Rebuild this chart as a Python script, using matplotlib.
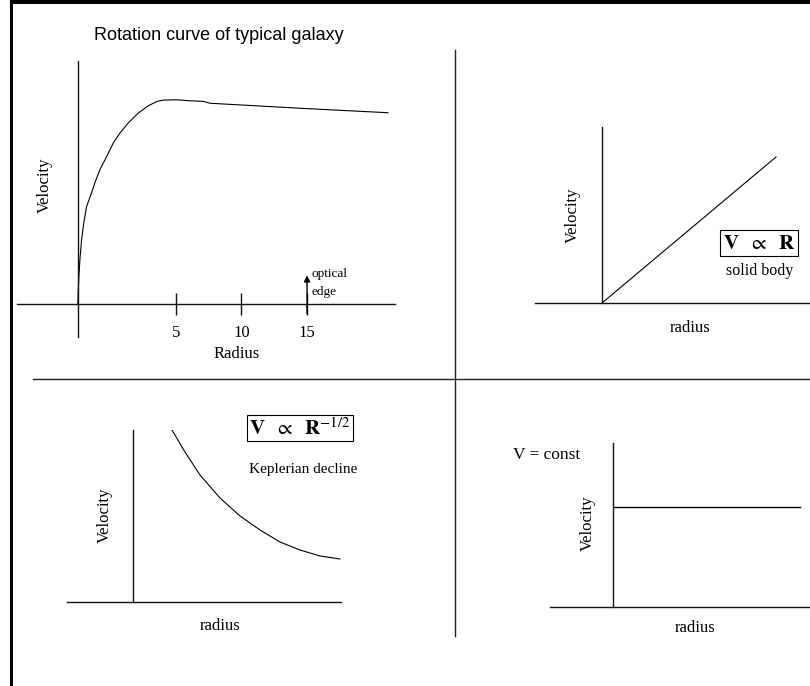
import matplotlib
matplotlib.use("Agg")
import matplotlib.pyplot as plt
from matplotlib.lines import Line2D
from matplotlib.patches import Rectangle

W, H = 810, 686
plt.rcParams['mathtext.fontset'] = 'stix'
SERIF = ['Liberation Serif', 'DejaVu Serif']
SANS = ['Liberation Sans', 'DejaVu Sans']

# --- data -------------------------------------------------------------
# Panel 1: rotation curve of a typical galaxy (radius in kpc, velocity in km/s)
galaxy_r = [-2.47, -2.43, -2.39, -2.31, -2.18, -2.01, -1.80, -1.42, -1.17,
            -0.79, -0.27, 0.23, 0.74, 1.37, 2.14, 2.90, 3.54, 4.05, 5.07,
            6.08, 7.08, 7.61, 14.48, 21.2]
galaxy_v = [0, 13.7, 25.2, 43.1, 62.7, 79.4, 95.4, 108.8, 118.6,
            131.4, 144.4, 157.5, 167.4, 177.2, 187.0, 194.1, 198.3, 199.7, 200,
            199, 198.5, 196.6, 191.7, 187.3]
radius_ticks = [5, 10, 15]
radius_tick_labels = ['5', '10', '15']
optical_edge_r = 15

# Panel 2: solid body rotation, V proportional to R
solid_r = [0, 8]
solid_v = [0, 8]

# Panel 3: Keplerian decline, V proportional to R^-1/2
kepler_r = [1.95, 2.6, 3.35, 4.35, 5.35, 6.35, 7.35, 8.35, 9.35, 10.35]
kepler_v = [8.6, 7.5, 6.35, 5.2, 4.3, 3.6, 3.0, 2.6, 2.3, 2.15]

# Panel 4: flat rotation curve, V = const
flat_r = [0, 9.35]
flat_v = [5.0, 5.0]


def box(x0, y0, x1, y1):
    """Pixel box (top-left origin) -> figure-fraction rect."""
    return [x0 / W, 1 - y1 / H, (x1 - x0) / W, (y1 - y0) / H]


def fpos(x, y):
    return x / W, 1 - y / H


fig = plt.figure(figsize=(W / 100, H / 100), dpi=100)
fig.patch.set_facecolor('white')

AX_LW = 1.0
CURVE_LW = 0.8


def schematic_axes(rect, xlim, ylim, yaxis_at=0.0):
    ax = fig.add_axes(rect)
    ax.set_xlim(*xlim)
    ax.set_ylim(*ylim)
    ax.patch.set_alpha(0)
    for s in ('top', 'right'):
        ax.spines[s].set_visible(False)
    ax.spines['left'].set_position(('data', yaxis_at))
    ax.spines['bottom'].set_position(('data', 0))
    for s in ('left', 'bottom'):
        ax.spines[s].set_linewidth(AX_LW)
        ax.spines[s].set_color('#111111')
    ax.set_xticks([])
    ax.set_yticks([])
    return ax


# Panel 1 -------------------------------------------------------------
ax1 = schematic_axes(box(17, 61, 395, 337), (-7.1, 21.7), (-32.4, 238),
                     yaxis_at=galaxy_r[0])
ax1.plot(galaxy_r, galaxy_v, color='black', lw=CURVE_LW, solid_capstyle='butt',
         solid_joinstyle='round')
ax1.set_xticks(radius_ticks)
ax1.set_xticklabels(radius_tick_labels, family=SERIF, fontsize=12)
ax1.tick_params(axis='x', direction='inout', length=16, width=AX_LW, pad=7,
                color='#111111')
ax1.annotate('', xy=(optical_edge_r, 28), xytext=(optical_edge_r, -9.8),
             arrowprops=dict(arrowstyle='-|>', lw=AX_LW, color='black',
                             mutation_scale=9, shrinkA=0, shrinkB=0))
fig.text(*fpos(312, 274), 'optical', family=SERIF, fontsize=9.5, ha='left', va='center')
fig.text(*fpos(312, 292), 'edge', family=SERIF, fontsize=9.5, ha='left', va='center')
fig.text(*fpos(237, 354), 'Radius', family=SERIF, fontsize=12, ha='center', va='center')
fig.text(*fpos(45, 185), 'Velocity', family=SERIF, fontsize=12, rotation=90,
         ha='center', va='center')
fig.text(*fpos(219, 35), 'Rotation curve of typical galaxy', family=SANS,
         fontsize=13, ha='center', va='center')

# Panel 2 -------------------------------------------------------------
ax2 = schematic_axes(box(535, 127, 810, 303), (-3.08, 9.56), (0, 9.64))
ax2.plot(solid_r, solid_v, color='black', lw=CURVE_LW)
fig.text(*fpos(759, 243), r'$\mathbf{V}\ \ \propto\ \ \mathbf{R}$', fontsize=15,
         ha='center', va='center',
         bbox=dict(boxstyle='square,pad=0.15', fc='white', ec='black', lw=0.8))
fig.text(*fpos(760, 271), 'solid body', family=SERIF, fontsize=11.5,
         ha='center', va='center')
fig.text(*fpos(690, 328), 'radius', family=SERIF, fontsize=12, ha='center', va='center')
fig.text(*fpos(573, 215), 'Velocity', family=SERIF, fontsize=12, rotation=90,
         ha='center', va='center')

# Panel 3 -------------------------------------------------------------
ax3 = schematic_axes(box(67, 430, 341, 602), (-3.3, 10.4), (0, 8.6))
ax3.plot(kepler_r, kepler_v, color='black', lw=CURVE_LW)
fig.text(*fpos(300, 428), r'$\mathbf{V}\ \ \propto\ \ \mathbf{R}^{-1/2}$', fontsize=15,
         ha='center', va='center',
         bbox=dict(boxstyle='square,pad=0.12', fc='white', ec='black', lw=0.8))
fig.text(*fpos(303, 469), 'Keplerian decline', family=SERIF, fontsize=11,
         ha='center', va='center')
fig.text(*fpos(105, 515), 'Velocity', family=SERIF, fontsize=12, rotation=90,
         ha='center', va='center')
fig.text(*fpos(220, 626), 'radius', family=SERIF, fontsize=12, ha='center', va='center')

# Panel 4 -------------------------------------------------------------
ax4 = schematic_axes(box(550, 443, 810, 607), (-3.15, 9.85), (0, 8.2))
ax4.plot(flat_r, flat_v, color='black', lw=AX_LW)
fig.text(*fpos(547, 455), 'V = const', family=SERIF, fontsize=12.5,
         ha='center', va='center')
fig.text(*fpos(588, 523), 'Velocity', family=SERIF, fontsize=12, rotation=90,
         ha='center', va='center')
fig.text(*fpos(695, 628), 'radius', family=SERIF, fontsize=12, ha='center', va='center')

# Quadrant dividers ----------------------------------------------------
fig.add_artist(Line2D([33 / W, 1.0], [1 - 379 / H] * 2, color='#222222', lw=AX_LW,
                      transform=fig.transFigure))
fig.add_artist(Line2D([455 / W] * 2, [1 - 50 / H, 1 - 636 / H], color='#222222',
                      lw=AX_LW, transform=fig.transFigure))

# Frame on top and left edges
fig.add_artist(Rectangle((10 / W, 1 - 4 / H), 1.0, 4 / H, color='black',
                         transform=fig.transFigure, lw=0))
fig.add_artist(Rectangle((10 / W, 0), 3 / W, 1.0, color='black',
                         transform=fig.transFigure, lw=0))

fig.savefig('out.png', dpi=100, facecolor='white')
